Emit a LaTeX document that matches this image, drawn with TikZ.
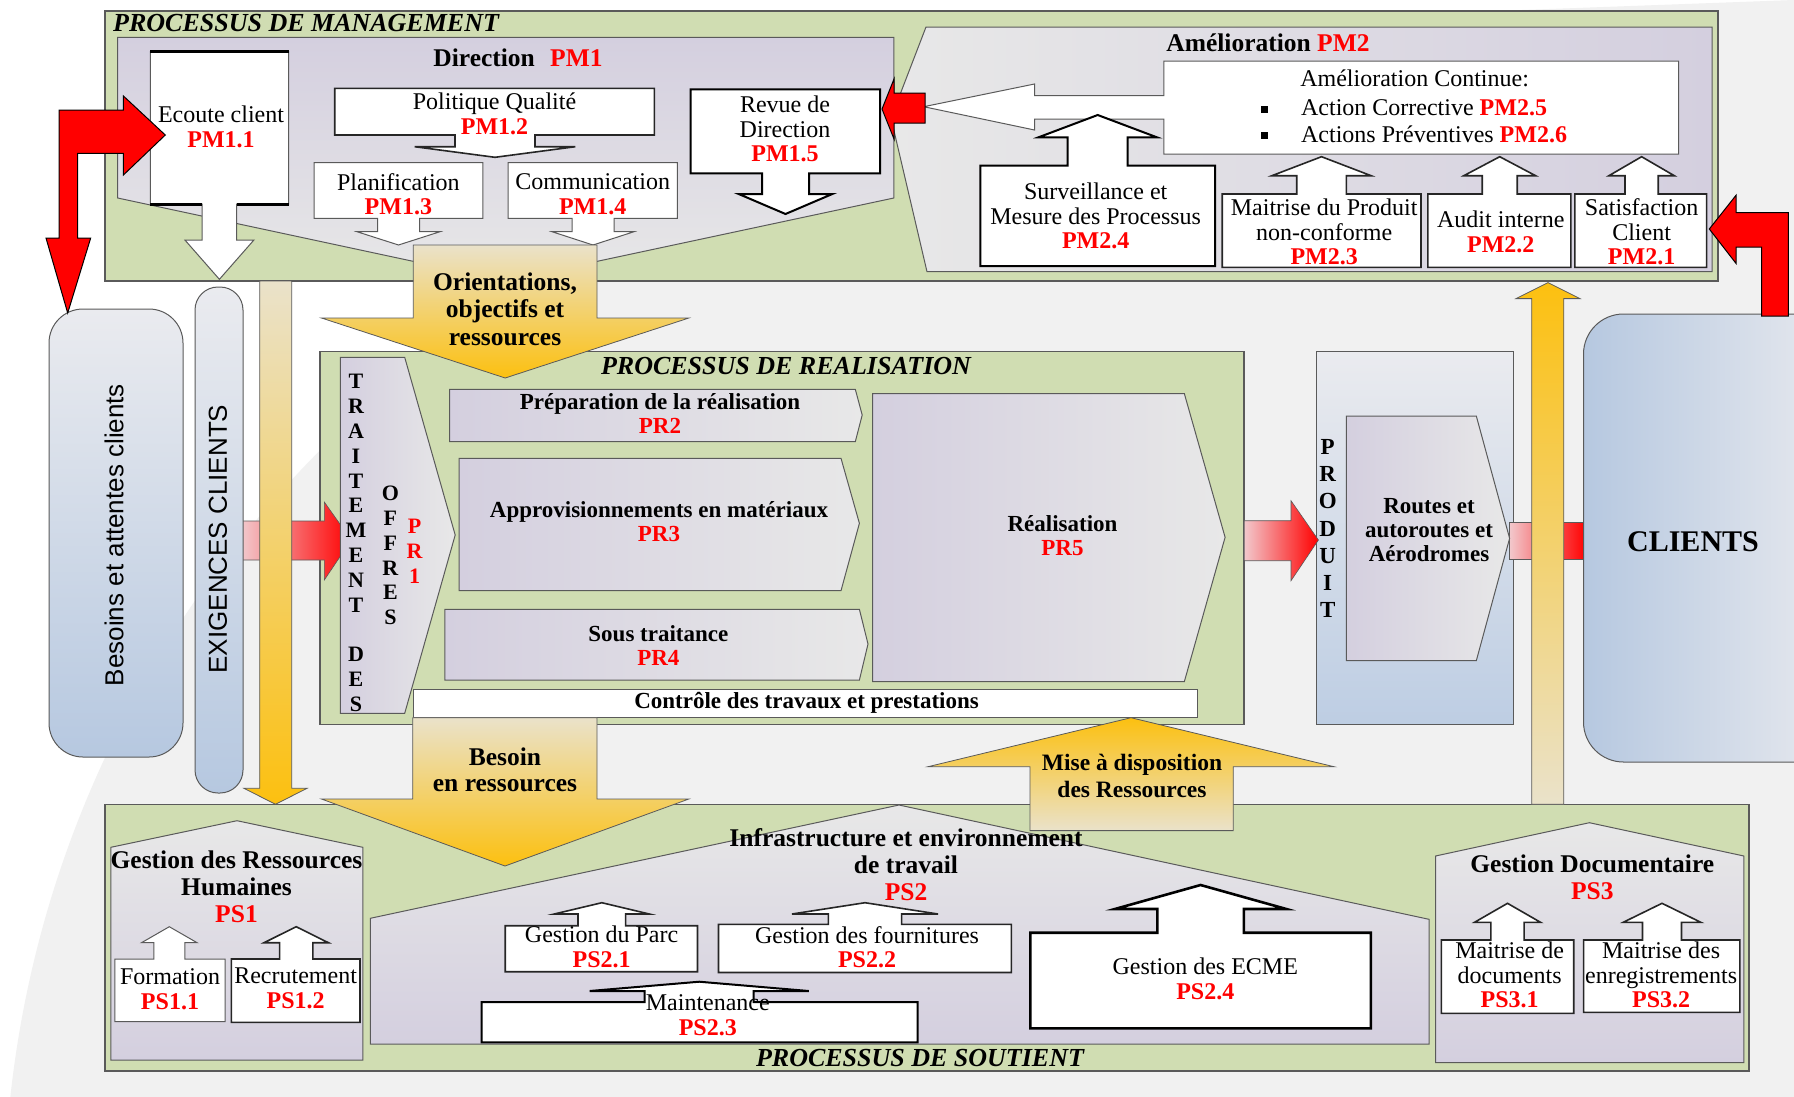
\documentclass[tikz,border=0pt]{standalone}
\usepackage{fontspec}
\setmainfont{Liberation Serif}
\newfontfamily\sansfam{Liberation Sans}

\definecolor{procgreen}{RGB}{208,221,178}
\definecolor{lav}{RGB}{212,207,223}
\definecolor{lgray}{RGB}{232,232,232}
\definecolor{ygold}{RGB}{252,192,16}
\definecolor{ybeige}{RGB}{234,226,202}
\definecolor{pinkish}{RGB}{242,200,204}
\definecolor{pillblue}{RGB}{182,200,224}
\definecolor{pilltop}{RGB}{234,235,239}
\definecolor{edge}{RGB}{90,90,90}
\definecolor{codered}{RGB}{255,0,0}
\definecolor{bgsoft}{RGB}{241,241,241}

\newcommand\fnorm{\fontsize{24}{24.5}\selectfont}
\newcommand\fhead{\fontsize{25.5}{27}\selectfont\bfseries}
\newcommand\ftitle{\fontsize{26}{28}\selectfont\bfseries\itshape}
\newcommand\fpr{\fontsize{23}{24}\selectfont\bfseries}
\newcommand\fstack{\fontsize{22}{24.8}\selectfont\bfseries}
\newcommand\pmc[1]{\textcolor{codered}{\bfseries #1}}

% white box with an arrow leaving its top edge upwards
% #1 x1, #2 top, #3 x2, #4 bottom, #5 arrow centre x, #6 shaft half width,
% #7 head half width, #8 head base y, #9 tip y
\newcommand\ubox[9]{\path[ubx] (#1,#2) -- (#5-#6,#2) -- (#5-#6,#8) -- (#5-#7,#8) -- (#5,#9)
  -- (#5+#7,#8) -- (#5+#6,#8) -- (#5+#6,#2) -- (#3,#2) -- (#3,#4) -- (#1,#4) -- cycle;}
% white box with an arrow leaving its bottom edge downwards
\newcommand\dbox[9]{\path[ubx] (#1,#2) -- (#3,#2) -- (#3,#4) -- (#5+#6,#4) -- (#5+#6,#8)
  -- (#5+#7,#8) -- (#5,#9) -- (#5-#7,#8) -- (#5-#6,#8) -- (#5-#6,#4) -- (#1,#4) -- cycle;}

\tikzset{
  lbl/.style={inner sep=0pt, align=center, font=\fnorm},
  grn/.style={fill=procgreen, draw=edge, line width=1.2pt},
  lavh/.style={left color=lav, right color=lgray, draw=edge, line width=1pt},
  lavhr/.style={left color=lgray, right color=lav, draw=edge, line width=1pt},
  lavv/.style={top color=lav, bottom color=lgray, draw=edge, line width=1pt},
  housebox/.style={top color=lgray, bottom color=lav, draw=edge, line width=1pt},
  wthin/.style={fill=white, draw=edge, line width=1pt},
  wmed/.style={fill=white, draw=black!85, line width=1.6pt},
  wthick/.style={fill=white, draw=black, line width=2.6pt},
  ubx/.style={wmed},
  pillshape/.style={top color=pilltop, bottom color=pillblue, draw=edge, line width=1pt},
  clientshape/.style={left color=pillblue, right color=pilltop, draw=edge, line width=1pt},
  prodshape/.style={top color=pilltop, bottom color=pillblue!90, draw=edge, line width=1pt},
  redarrow/.style={fill=codered, draw=black, line width=1pt},
  pinkarrow/.style={left color=pinkish, right color=codered, draw=edge, line width=0.6pt},
  ydown/.style={top color=ybeige, bottom color=ygold, draw=edge, line width=0.8pt},
  yup/.style={top color=ygold, bottom color=ybeige, draw=edge, line width=0.8pt},
  letterstack/.style={inner sep=0pt, align=center, font=\fstack, anchor=north},
}

\begin{document}
\begin{tikzpicture}[x=1pt,y=-1pt]
\useasboundingbox (0,0) rectangle (1794,1096);
\clip (0,0) rectangle (1794,1096);

% backdrop: white sheet with a soft grey disc
\fill[white] (0,0) rectangle (1794,1096);
\fill[bgsoft] (1087,1215) circle[radius=1083pt];
\fill[bgsoft] (1250,20) -- (1794,0) -- (1794,700) -- (1600,700) -- cycle;

% the three process areas and the product column
\draw[grn] (105,11) rectangle (1718,281);
\draw[grn] (320,351.5) rectangle (1244,724.3);
\draw[grn] (105,804.3) rectangle (1749,1071);
\path[prodshape] (1316,351.7) rectangle (1513.6,724.3);

% customer requirement flow, left side
\path[pinkarrow] (242,521) -- (324.3,521) -- (324.3,502) -- (351.3,540) -- (324.3,580)
  -- (324.3,560) -- (242,560) -- cycle;
\path[ydown] (259.7,281) -- (291.7,281) -- (291.7,788.3) -- (307,788.3) -- (275.5,804.3)
  -- (244,788.3) -- (259.7,788.3) -- cycle;

% product to customers, right side
\path[pinkarrow] (1509.6,522.3) rectangle (1586,559.3);
\path[yup] (1531.7,804.3) -- (1531.7,298.6) -- (1516,298.6) -- (1548,282.6) -- (1580,298.6)
  -- (1563.8,298.6) -- (1563.8,804.3) -- cycle;

% customer pills
\path[pillshape, rounded corners=34pt] (49,309) rectangle (183,757);
\path[pillshape, rounded corners=23pt] (195,287) rectangle (243,793);
\path[clientshape, rounded corners=40pt] (1583.5,314) rectangle (1850,762);

% ---------------- management ----------------
\path[lavv] (117.7,37.3) -- (893.8,37.3) -- (893.8,198) -- (505,281) -- (117.7,198) -- cycle;
\path[lavhr] (926,27) -- (1712,27) -- (1712,271.7) -- (927,271.7) -- (891,118) -- cycle;

\tikzset{ubx/.style={wthin}}
\dbox{150.4}{51.7}{288.7}{204}{219.4}{17.2}{34.5}{240}{279.3}
\draw[line width=3pt] (150.4,51.7) -- (288.7,51.7);
\draw[line width=3pt] (150.4,204) -- (202.2,204) (236.6,204) -- (288.7,204);
\tikzset{ubx/.style={wmed}}
\dbox{334.7}{88.3}{654.4}{135}{495}{40}{80.3}{146.7}{157.3}
\tikzset{ubx/.style={wthin}}
\dbox{314}{162.7}{482.8}{218.3}{398.5}{21}{41.5}{231.7}{245}
\dbox{508}{162.7}{677.4}{218.3}{593}{21}{41}{231.7}{245}
\tikzset{ubx/.style={wthick, line width=2pt}}
\dbox{690.6}{89.3}{880}{173.3}{785.5}{23.5}{46.8}{194}{214}

% continuous improvement box with its arrow towards the review
\path[wthin] (1163.9,61) -- (1678.6,61) -- (1678.6,154) -- (1163.9,154) -- (1163.9,119)
  -- (1034.5,119) -- (1034.5,130) -- (923.7,106.7) -- (1034.5,84) -- (1034.5,95.7)
  -- (1163.9,95.7) -- cycle;
\fill (1261,105.5) rectangle (1268,112.5);
\fill (1261,131.5) rectangle (1268,138.5);

\tikzset{ubx/.style={wthick, line width=2pt}}
\ubox{980.3}{165.7}{1215.2}{266}{1097.7}{30}{59.2}{137.3}{115}
\tikzset{ubx/.style={wmed}}
\ubox{1222.2}{194}{1421}{267.3}{1321.5}{24.8}{49.6}{175.7}{156.7}
\ubox{1427.9}{194}{1570.8}{267.3}{1499.7}{17.5}{35.9}{175.7}{156.7}
\ubox{1574.8}{194}{1706.6}{267.3}{1641.6}{16.6}{32.7}{175.7}{156.7}

% red feedback arrows
\path[redarrow] (59,110) -- (123.4,110) -- (123.4,96) -- (165.3,135) -- (123.4,175)
  -- (123.4,153.3) -- (77.5,153.3) -- (77.5,238) -- (90.7,238) -- (67.7,313) -- (46,238)
  -- (59,238) -- cycle;
\path[redarrow] (1709.3,229) -- (1736,195.3) -- (1736,212.5) -- (1788.3,212.5)
  -- (1788.3,316) -- (1761.7,316) -- (1761.7,247) -- (1736,247) -- (1736,263.4) -- cycle;
\path[redarrow] (882,109) -- (894,79) -- (894,93) -- (925,93) -- (925,123) -- (894,123)
  -- (894,139) -- cycle;

% ---------------- realisation ----------------
\path[lavh] (340.4,357.3) -- (404.7,357.3) -- (455.2,535) -- (404.7,713.3) -- (340.4,713.3) -- cycle;
\path[lavh] (449.5,389.3) -- (855.3,389.3) -- (862.2,415) -- (855.3,441.7) -- (449.5,441.7) -- cycle;
\path[lavh] (459.2,458.3) -- (841,458.3) -- (859.4,523.3) -- (841,590.7) -- (459.2,590.7) -- cycle;
\path[lavh] (444.9,609.3) -- (859.4,609.3) -- (868,644) -- (859.4,680) -- (444.9,680) -- cycle;
\path[lavh] (872.6,393.5) -- (1184.3,393.5) -- (1225.1,537.3) -- (1184.3,681.7) -- (872.6,681.7) -- cycle;
\path[wthin] (413.3,689.3) rectangle (1197.7,717.7);
\path[pinkarrow] (1244.3,520.7) -- (1291,520.7) -- (1291,500.7) -- (1318.4,540) -- (1291,580.7)
  -- (1291,560.7) -- (1244.3,560.7) -- cycle;
\path[lavh] (1346.3,416) -- (1476.3,416) -- (1509.6,538.3) -- (1476.3,660.7) -- (1346.3,660.7) -- cycle;

% ---------------- support ----------------
\path[housebox] (110.8,1060) -- (110.8,847.3) -- (237,820.7) -- (362.8,847.3) -- (362.8,1060) -- cycle;
\path[housebox] (370.3,1044) -- (370.3,918.3) -- (899,805) -- (1429,919.3) -- (1429,1044) -- cycle;
\path[housebox] (1435.5,1062.7) -- (1435.5,856) -- (1589.4,822.7) -- (1743.9,856) -- (1743.9,1062.7) -- cycle;

\tikzset{ubx/.style={wthin}}
\ubox{114.8}{959}{225}{1021.7}{169.3}{15.5}{27.8}{942.7}{926.7}
\tikzset{ubx/.style={wmed}}
\ubox{231.3}{959}{360}{1022.3}{296.2}{16.6}{32.2}{942.7}{926.7}
\ubox{505.2}{925.7}{697.5}{971.7}{601.8}{23.8}{47.5}{914}{902.7}
\ubox{718.5}{924.4}{1011.4}{972.5}{865}{36.6}{73}{914}{902.7}
\tikzset{ubx/.style={wthick, line width=2pt}}
\ubox{481.7}{1002}{917.6}{1042.3}{699.2}{54.5}{109.6}{991}{981.7}
\tikzset{ubx/.style={wthick}}
\ubox{1030.4}{932.7}{1370.8}{1028.3}{1200.6}{43.2}{85.7}{909}{885}
\tikzset{ubx/.style={wmed}}
\ubox{1441.4}{940}{1573.7}{1013.3}{1507.5}{16.6}{33}{922.3}{903.3}
\ubox{1583.6}{940}{1739.8}{1012.3}{1662}{19.5}{38.8}{922.3}{903.3}

% ---------------- flows between the processes ----------------
\path[ydown] (413.3,245) -- (597,245) -- (597,318) -- (688.9,318) -- (505.2,378) -- (321.5,318)
  -- (413.3,318) -- cycle;
\path[ydown] (412.7,717.7) -- (597,717.7) -- (597,799) -- (688.8,799) -- (505,866) -- (321.5,799)
  -- (412.7,799) -- cycle;
\path[yup] (1030,830.6) -- (1030,766.7) -- (928,766.7) -- (1131,717.7) -- (1334,766.7)
  -- (1233.3,766.7) -- (1233.3,830.6) -- cycle;

% ---------------- texts ----------------
\node[lbl, font=\ftitle, anchor=west] (tmgmt) at (113,23) {PROCESSUS DE MANAGEMENT};
\node[lbl, font=\fhead] (tdir) at (518,58) {Direction\hspace{0.6em}\pmc{PM1}};
\node[lbl] (ecoute) at (221,127) {Ecoute client\\\pmc{PM1.1}};
\node[lbl] (polit) at (494.5,114) {Politique Qualité\\\pmc{PM1.2}};
\node[lbl] (planif) at (398.4,194) {Planification\\\pmc{PM1.3}};
\node[lbl] (comm) at (592.7,194) {Communication\\\pmc{PM1.4}};
\node[lbl] (revue) at (785,129) {Revue de\\Direction\\\pmc{PM1.5}};

\node[lbl, font=\fhead] (tamel) at (1268,43) {Amélioration \pmc{PM2}};
\node[lbl] (amcont) at (1414.6,78) {Amélioration Continue:};
\node[lbl, anchor=west] (actcor) at (1300.9,108) {Action Corrective \pmc{PM2.5}};
\node[lbl, anchor=west] (actprev) at (1300.9,134) {Actions Préventives \pmc{PM2.6}};
\node[lbl] (surv) at (1095.7,216) {Surveillance et\\Mesure des Processus\\\pmc{PM2.4}};
\node[lbl] (mprod) at (1324.2,232) {Maitrise du Produit\\non-conforme\\\pmc{PM2.3}};
\node[lbl] (audit) at (1500.8,232) {Audit interne\\\pmc{PM2.2}};
\node[lbl] (satis) at (1641.6,232) {Satisfaction\\Client\\\pmc{PM2.1}};

\node[lbl, font=\fontsize{25.5}{27.5}\selectfont\bfseries] (orient) at (505,309) {Orientations,\\objectifs et\\ressources};

\node[lbl, rotate=90, font=\sansfam\fontsize{26}{28}\selectfont] (besoins) at (114,535) {Besoins et attentes clients};
\node[lbl, rotate=90, font=\sansfam\fontsize{26}{28}\selectfont] (exig) at (218,539) {EXIGENCES CLIENTS};

\node[lbl, font=\ftitle] (treal) at (786,366) {PROCESSUS DE REALISATION};
\node[letterstack] (trait) at (356,374.3) {T\\R\\A\\I\\T\\E\\M\\E\\N\\T\\~\\D\\E\\S};
\node[letterstack] (offres) at (390.4,486) {O\\F\\F\\R\\E\\S};
\node[letterstack, text=codered] (pr1) at (414.5,519.3) {P\\R\\1};
\node[lbl, font=\fpr] (pr2) at (660,413) {Préparation de la réalisation\\\pmc{PR2}};
\node[lbl, font=\fpr] (pr3) at (659,522) {Approvisionnements en matériaux\\\pmc{PR3}};
\node[lbl, font=\fpr] (pr4) at (658.4,646) {Sous traitance\\\pmc{PR4}};
\node[lbl, font=\fpr] (pr5) at (1062.5,536) {Réalisation\\\pmc{PR5}};
\node[lbl, font=\fpr] (ctrl) at (806.6,703) {Contrôle des travaux et prestations};
\node[letterstack, font=\fontsize{23}{27.1}\selectfont\bfseries] (produit) at (1327.7,439.5) {P\\R\\O\\D\\U\\I\\T};
\node[lbl, font=\fpr] (routes) at (1429,530) {Routes et\\autoroutes et\\Aérodromes};
\node[lbl, font=\fontsize{30}{32}\selectfont\bfseries] (clients) at (1693,542) {CLIENTS};

\node[lbl, font=\fontsize{25.5}{26.5}\selectfont\bfseries] (besres) at (505,770) {Besoin\\en ressources};
\node[lbl, font=\fontsize{23.5}{26.3}\selectfont\bfseries] (mise) at (1132,776) {Mise à disposition\\des Ressources};

\node[lbl, font=\ftitle] (tsout) at (920,1058) {PROCESSUS DE SOUTIENT};
\node[lbl, font=\fhead] (grh) at (236.5,887) {Gestion des Ressources\\Humaines\\\pmc{PS1}};
\node[lbl] (form) at (170,989) {Formation\\\pmc{PS1.1}};
\node[lbl] (recr) at (295.6,988.5) {Recrutement\\\pmc{PS1.2}};
\node[lbl, font=\fhead] (infra) at (906,865) {Infrastructure et environnement\\de travail\\\pmc{PS2}};
\node[lbl] (parc) at (601.6,947) {Gestion du Parc\\\pmc{PS2.1}};
\node[lbl] (fourn) at (867,947) {Gestion des fournitures\\\pmc{PS2.2}};
\node[lbl] (maint) at (707.8,1015) {Maintenance\\\pmc{PS2.3}};
\node[lbl] (ecme) at (1205.3,979) {Gestion des ECME\\\pmc{PS2.4}};
\node[lbl, font=\fhead] (gdoc) at (1592.3,877) {Gestion Documentaire\\\pmc{PS3}};
\node[lbl] (mdoc) at (1509.6,975) {Maitrise de\\documents\\\pmc{PS3.1}};
\node[lbl] (menr) at (1661.1,975) {Maitrise des\\enregistrements\\\pmc{PS3.2}};
\end{tikzpicture}
\end{document}
